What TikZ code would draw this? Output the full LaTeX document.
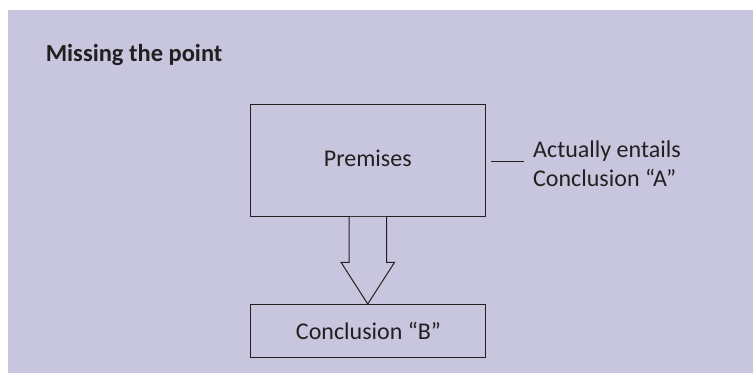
\documentclass[tikz,border=0pt]{standalone}
\usepackage{fontspec}
\setmainfont{Carlito}
\usetikzlibrary{calc}
\definecolor{bg}{RGB}{200,198,222}
\definecolor{ink}{RGB}{35,31,32}
\begin{document}
\begin{tikzpicture}[x=1pt,y=-1pt,
  box/.style={draw=ink,line width=1pt,fill=bg,inner sep=0pt},
  lbl/.style={text=ink,font=\fontsize{24}{29.4}\selectfont,inner sep=0pt}]
\useasboundingbox (0,0) rectangle (753,383);
\fill[bg] (8,9.5) rectangle (753,373);
\node[lbl,anchor=base west,font=\fontsize{24.5}{29}\selectfont\bfseries] (title) at (45.6,61.7) {Missing the point};
\node[box,minimum width=234.5pt,minimum height=111.5pt] (prem) at (367.75,160.5) {};
\node[lbl,anchor=base] (premt) at (367.75,166) {Premises};
\node[box,minimum width=234.5pt,minimum height=53.5pt] (concl) at (367.75,331) {};
\node[lbl,anchor=base] (conclt) at (368.5,339.5) {Conclusion “B”};
\coordinate (tip) at (367.75,304);
\draw[ink,line width=1pt,fill=bg,line join=miter]
  ($(prem.south)+(-18.75,0)$) -- ($(prem.south)+(-18.75,45.5)$) -- ($(prem.south)+(-26.75,45.5)$)
  -- (tip) -- ($(prem.south)+(26.85,45.5)$) -- ($(prem.south)+(18.75,45.5)$) -- ($(prem.south)+(18.75,0)$);
\node[lbl,anchor=base west,align=left] (note) at (533,186.7) {Actually entails\\Conclusion “A”};
\coordinate (n1) at ($(prem.east)+(5.5,0.5)$);
\draw[ink,line width=1pt] (n1) -- ($(n1 -| note.west)+(-9,0)$);
\end{tikzpicture}
\end{document}
